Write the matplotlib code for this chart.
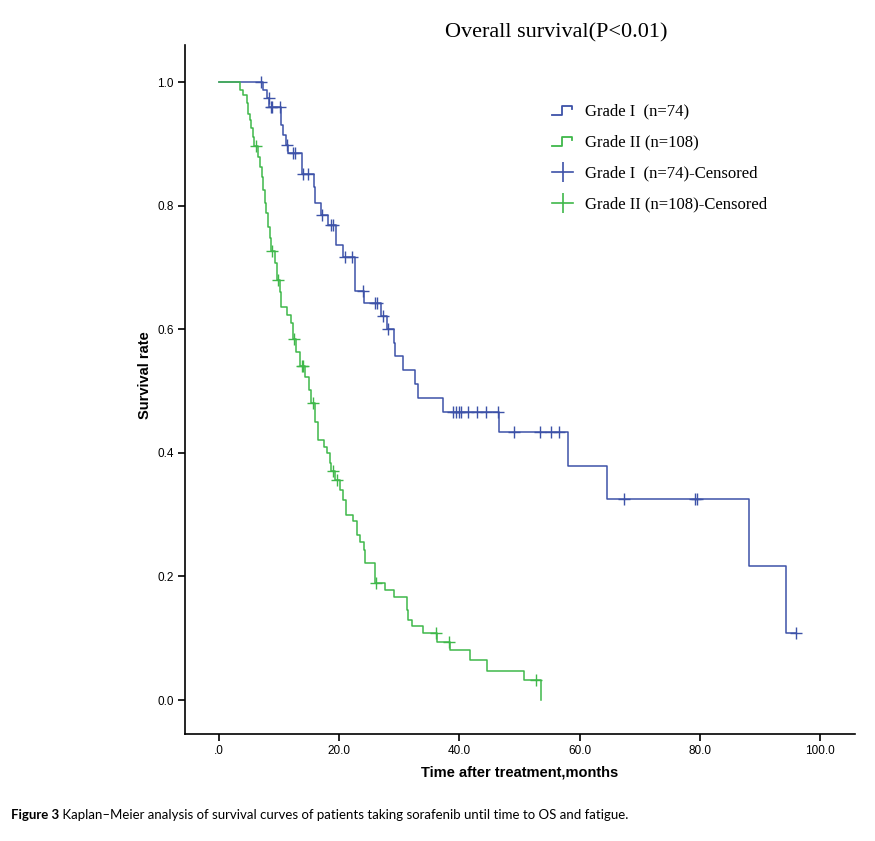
import numpy as np
import matplotlib
matplotlib.use("Agg")
import matplotlib.pyplot as plt
from matplotlib.lines import Line2D
from matplotlib.legend_handler import HandlerBase

# Grade I (n=74): times of the drops, survival after each drop, censored times
g1_drop_t = [7.4, 8.0, 8.4, 10.4, 10.7, 11.2, 11.5, 13.8, 15.8, 16.0, 17.0, 18.2,
             19.5, 20.6, 22.6, 22.7, 24.2, 27.0, 28.0, 29.2, 29.3, 30.7, 32.6, 33.1,
             37.3, 46.6, 58.0, 64.5, 88.2, 94.3]
g1_drop_s = [0.987, 0.974, 0.959, 0.930, 0.914, 0.898, 0.885, 0.852, 0.830, 0.804,
             0.785, 0.769, 0.736, 0.717, 0.690, 0.662, 0.643, 0.621, 0.601, 0.578,
             0.556, 0.534, 0.511, 0.489, 0.4665, 0.433, 0.379, 0.325, 0.217, 0.109]
g1_cens_t = [7.0, 8.3, 8.6, 8.9, 10.1, 11.3, 12.4, 12.6, 14.0, 14.8, 17.2, 18.6, 18.9,
             21.0, 22.1, 24.0, 26.0, 26.3, 27.3, 28.2, 38.9, 39.4, 40.0, 40.2, 41.4,
             42.9, 44.5, 46.5, 49.1, 53.4, 55.2, 56.5, 67.3, 79.2, 79.6, 96.0]

# Grade II (n=108)
g2_drop_t = [3.5, 4.0, 4.6, 4.9, 5.2, 5.4, 5.7, 5.9, 6.5, 6.8, 7.1, 7.4, 7.6, 7.9,
             8.2, 8.5, 8.7, 9.3, 9.6, 10.2, 10.4, 11.3, 12.0, 12.3, 12.9, 13.5, 14.3,
             14.9, 15.3, 16.0, 16.5, 17.4, 17.9, 18.4, 18.6, 19.3, 20.1, 20.7, 21.2,
             22.3, 22.9, 23.4, 24.1, 24.3, 25.9, 27.6, 29.1, 31.2, 31.5, 32.1, 34.0,
             36.3, 38.5, 41.7, 44.6, 50.7, 53.5]
g2_drop_s = [0.987, 0.979, 0.966, 0.949, 0.939, 0.925, 0.911, 0.896, 0.879, 0.863,
             0.847, 0.825, 0.804, 0.788, 0.766, 0.747, 0.727, 0.707, 0.680, 0.660,
             0.636, 0.623, 0.610, 0.585, 0.564, 0.540, 0.523, 0.502, 0.480, 0.450,
             0.421, 0.410, 0.399, 0.383, 0.370, 0.356, 0.340, 0.324, 0.299, 0.289,
             0.267, 0.256, 0.243, 0.222, 0.189, 0.178, 0.167, 0.146, 0.129, 0.119,
             0.108, 0.094, 0.081, 0.065, 0.047, 0.032, 0.0]
g2_cens_t = [6.1, 8.9, 9.9, 12.5, 13.8, 13.9, 15.6, 18.9, 19.6, 26.1, 36.1, 38.2, 52.8]

labels = ["Grade I  (n=74)", "Grade II (n=108)",
          "Grade I  (n=74)-Censored", "Grade II (n=108)-Censored"]
xticks = [0, 20, 40, 60, 80, 100]
xtick_labels = [".0", "20.0", "40.0", "60.0", "80.0", "100.0"]
yticks = [0.0, 0.2, 0.4, 0.6, 0.8, 1.0]

blue = "#3d52a8"
green = "#3fb84a"


def km_curve(drop_t, drop_s, cens_t):
    t = np.array([0.0] + drop_t)
    s = np.array([1.0] + drop_s)
    end = max(cens_t + drop_t)
    if t[-1] < end:
        t = np.append(t, end)
        s = np.append(s, s[-1])
    ct = np.array(cens_t)
    idx = np.searchsorted(t, ct, side="right") - 1
    return t, s, ct, s[idx]


class StepIcon(HandlerBase):
    def create_artists(self, legend, orig, xd, yd, w, h, fs, trans):
        xs = np.array([0.0, 0.45, 0.45, 0.95, 0.95]) * w - xd
        ys = np.array([0.05, 0.05, 0.85, 0.85, 0.55]) * h - yd
        return [Line2D(xs, ys, color=orig.get_color(), lw=1.3, transform=trans)]


fig = plt.figure(figsize=(8.75, 8.41), dpi=100)
ax = fig.add_axes([0.2114, 0.1272, 0.7657, 0.8193])

t1, s1, c1, cs1 = km_curve(g1_drop_t, g1_drop_s, g1_cens_t)
t2, s2, c2, cs2 = km_curve(g2_drop_t, g2_drop_s, g2_cens_t)

l1, = ax.step(t1, s1, where="post", color=blue, lw=1.1)
l2, = ax.step(t2, s2, where="post", color=green, lw=1.1)
ax.plot(c1, cs1, ls="none", marker="+", ms=8, mew=1.0, color=blue)
ax.plot(c2, cs2, ls="none", marker="+", ms=8, mew=1.0, color=green)

ax.set_xlim(-5.65, 105.8)
ax.set_ylim(-0.055, 1.06)
ax.set_xticks(xticks)
ax.set_xticklabels(xtick_labels)
ax.set_yticks(yticks)
ax.set_yticklabels([f"{v:.1f}" for v in yticks])
for side in ["top", "right"]:
    ax.spines[side].set_visible(False)
for side in ["left", "bottom"]:
    ax.spines[side].set_linewidth(1.2)
ax.tick_params(direction="out", length=5, width=1.2, labelsize=8.5, pad=3)
for lab in ax.get_xticklabels() + ax.get_yticklabels():
    lab.set_family("Liberation Sans")

ax.set_xlabel("Time after treatment,months", fontsize=10.5, fontweight="bold",
              family="Liberation Sans")
ax.set_ylabel("Survival rate", fontsize=10.5, fontweight="bold",
              family="Liberation Sans")
ax.xaxis.set_label_coords(0.5, -0.0464)
ax.yaxis.set_label_coords(-0.049, 0.521)

h3 = Line2D([], [], color=blue, marker="|", ms=15, mew=1.2, lw=1.2)
h4 = Line2D([], [], color=green, marker="|", ms=15, mew=1.2, lw=1.2)
ax.legend([l1, l2, h3, h4], labels, loc="upper left", bbox_to_anchor=(0.535, 0.927),
          frameon=False, handler_map={l1: StepIcon(), l2: StepIcon()},
          prop={"family": "Liberation Serif", "size": 12}, handlelength=1.3,
          handletextpad=0.7, labelspacing=0.9, borderpad=0)

fig.text(556 / 875, 1 - 33 / 841, "Overall survival(P<0.01)", ha="center", va="center",
         fontsize=16, family="Liberation Serif")

cap = fig.text(11 / 875, 1 - 815 / 841, "Figure 3", fontweight="bold", fontsize=9.5,
               family="Lato", va="center")
fig.add_artist(plt.Annotation(
    " Kaplan\u2013Meier analysis of survival curves of patients taking sorafenib until time to OS and fatigue.",
    xy=(1, 0), xycoords=cap, va="bottom", fontsize=9.5, family="Lato"))

fig.savefig("out.png", dpi=100)
